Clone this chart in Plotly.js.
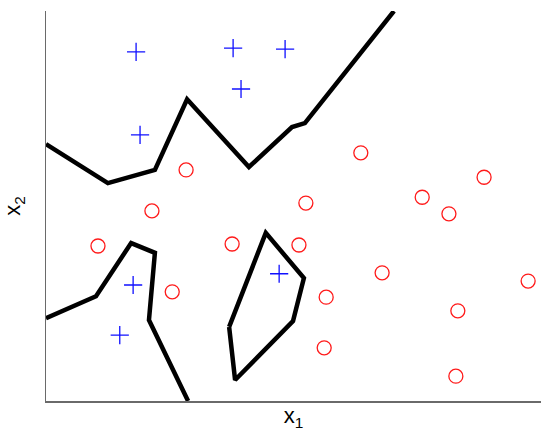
<!DOCTYPE html>
<html>
<head>
<meta charset="utf-8">
<script src="https://cdn.plot.ly/plotly-3.0.1.min.js"></script>
<style>
  html, body { margin: 0; padding: 0; background: #fff; }
  #chart { width: 543px; height: 433px; }
</style>
</head>
<body>
<div id="chart"></div>
<script>
// Class "+" samples
const plusX = [1.82, 3.78, 4.83, 3.94, 1.90, 1.76, 1.49, 4.71];
const plusY = [7.16, 7.24, 7.22, 6.40, 5.46, 2.38, 1.35, 2.61];

// Class "o" samples
const circleX = [2.83, 2.14, 6.36, 5.25, 7.60, 8.85, 8.14, 1.05, 3.76, 2.55, 5.11, 6.79, 9.74, 5.66, 8.32, 5.62, 8.28];
const circleY = [4.74, 3.90, 5.09, 4.06, 4.18, 4.59, 3.84, 3.18, 3.22, 2.24, 3.20, 2.63, 2.46, 2.13, 1.85, 1.09, 0.51];

// Decision boundary pieces
const upperBoundX = [0, 1.25, 2.20, 2.85, 4.10, 4.97, 5.23, 7.03];
const upperBoundY = [5.27, 4.47, 4.74, 6.19, 4.80, 5.62, 5.70, 8.00];

const lowerBoundX = [0, 1.01, 1.72, 2.20, 2.08, 2.87];
const lowerBoundY = [1.70, 2.15, 3.24, 3.04, 1.66, 0];

const islandX = [3.70, 4.44, 5.21, 4.99, 3.82, 3.70];
const islandY = [1.52, 3.45, 2.52, 1.64, 0.43, 1.52];

const boundaryLine = { color: '#000000', width: 4.5 };

const traces = [
  { x: upperBoundX, y: upperBoundY, mode: 'lines', line: boundaryLine, hoverinfo: 'skip' },
  { x: lowerBoundX, y: lowerBoundY, mode: 'lines', line: boundaryLine, hoverinfo: 'skip' },
  { x: islandX, y: islandY, mode: 'lines', line: boundaryLine, hoverinfo: 'skip' },
  {
    x: plusX, y: plusY, mode: 'markers',
    marker: { symbol: 'cross-thin-open', size: 13, color: '#1010ff', line: { color: '#1010ff', width: 1.3 } }
  },
  {
    x: circleX, y: circleY, mode: 'markers',
    marker: { symbol: 'circle-open', size: 14, color: '#ff1a1a', line: { color: '#ff1a1a', width: 1.3 } }
  }
];

const axisBase = {
  showline: true,
  linecolor: '#6a6a6a',
  linewidth: 1.5,
  showgrid: false,
  zeroline: false,
  ticks: '',
  showticklabels: false,
  fixedrange: true
};

const layout = {
  width: 543,
  height: 433,
  margin: { l: 46, r: 2, t: 11, b: 32 },
  paper_bgcolor: '#ffffff',
  plot_bgcolor: '#ffffff',
  showlegend: false,
  font: { family: 'Liberation Sans, Arial, sans-serif', size: 18, color: '#000000' },
  xaxis: Object.assign({}, axisBase, {
    range: [0, 10],
    title: { text: 'x<sub>1</sub>', standoff: 6 }
  }),
  yaxis: Object.assign({}, axisBase, {
    range: [0, 8],
    title: { text: 'x<sub>2</sub>', standoff: 19 }
  })
};

Plotly.newPlot('chart', traces, layout, { displayModeBar: false, staticPlot: true });
</script>
</body>
</html>
